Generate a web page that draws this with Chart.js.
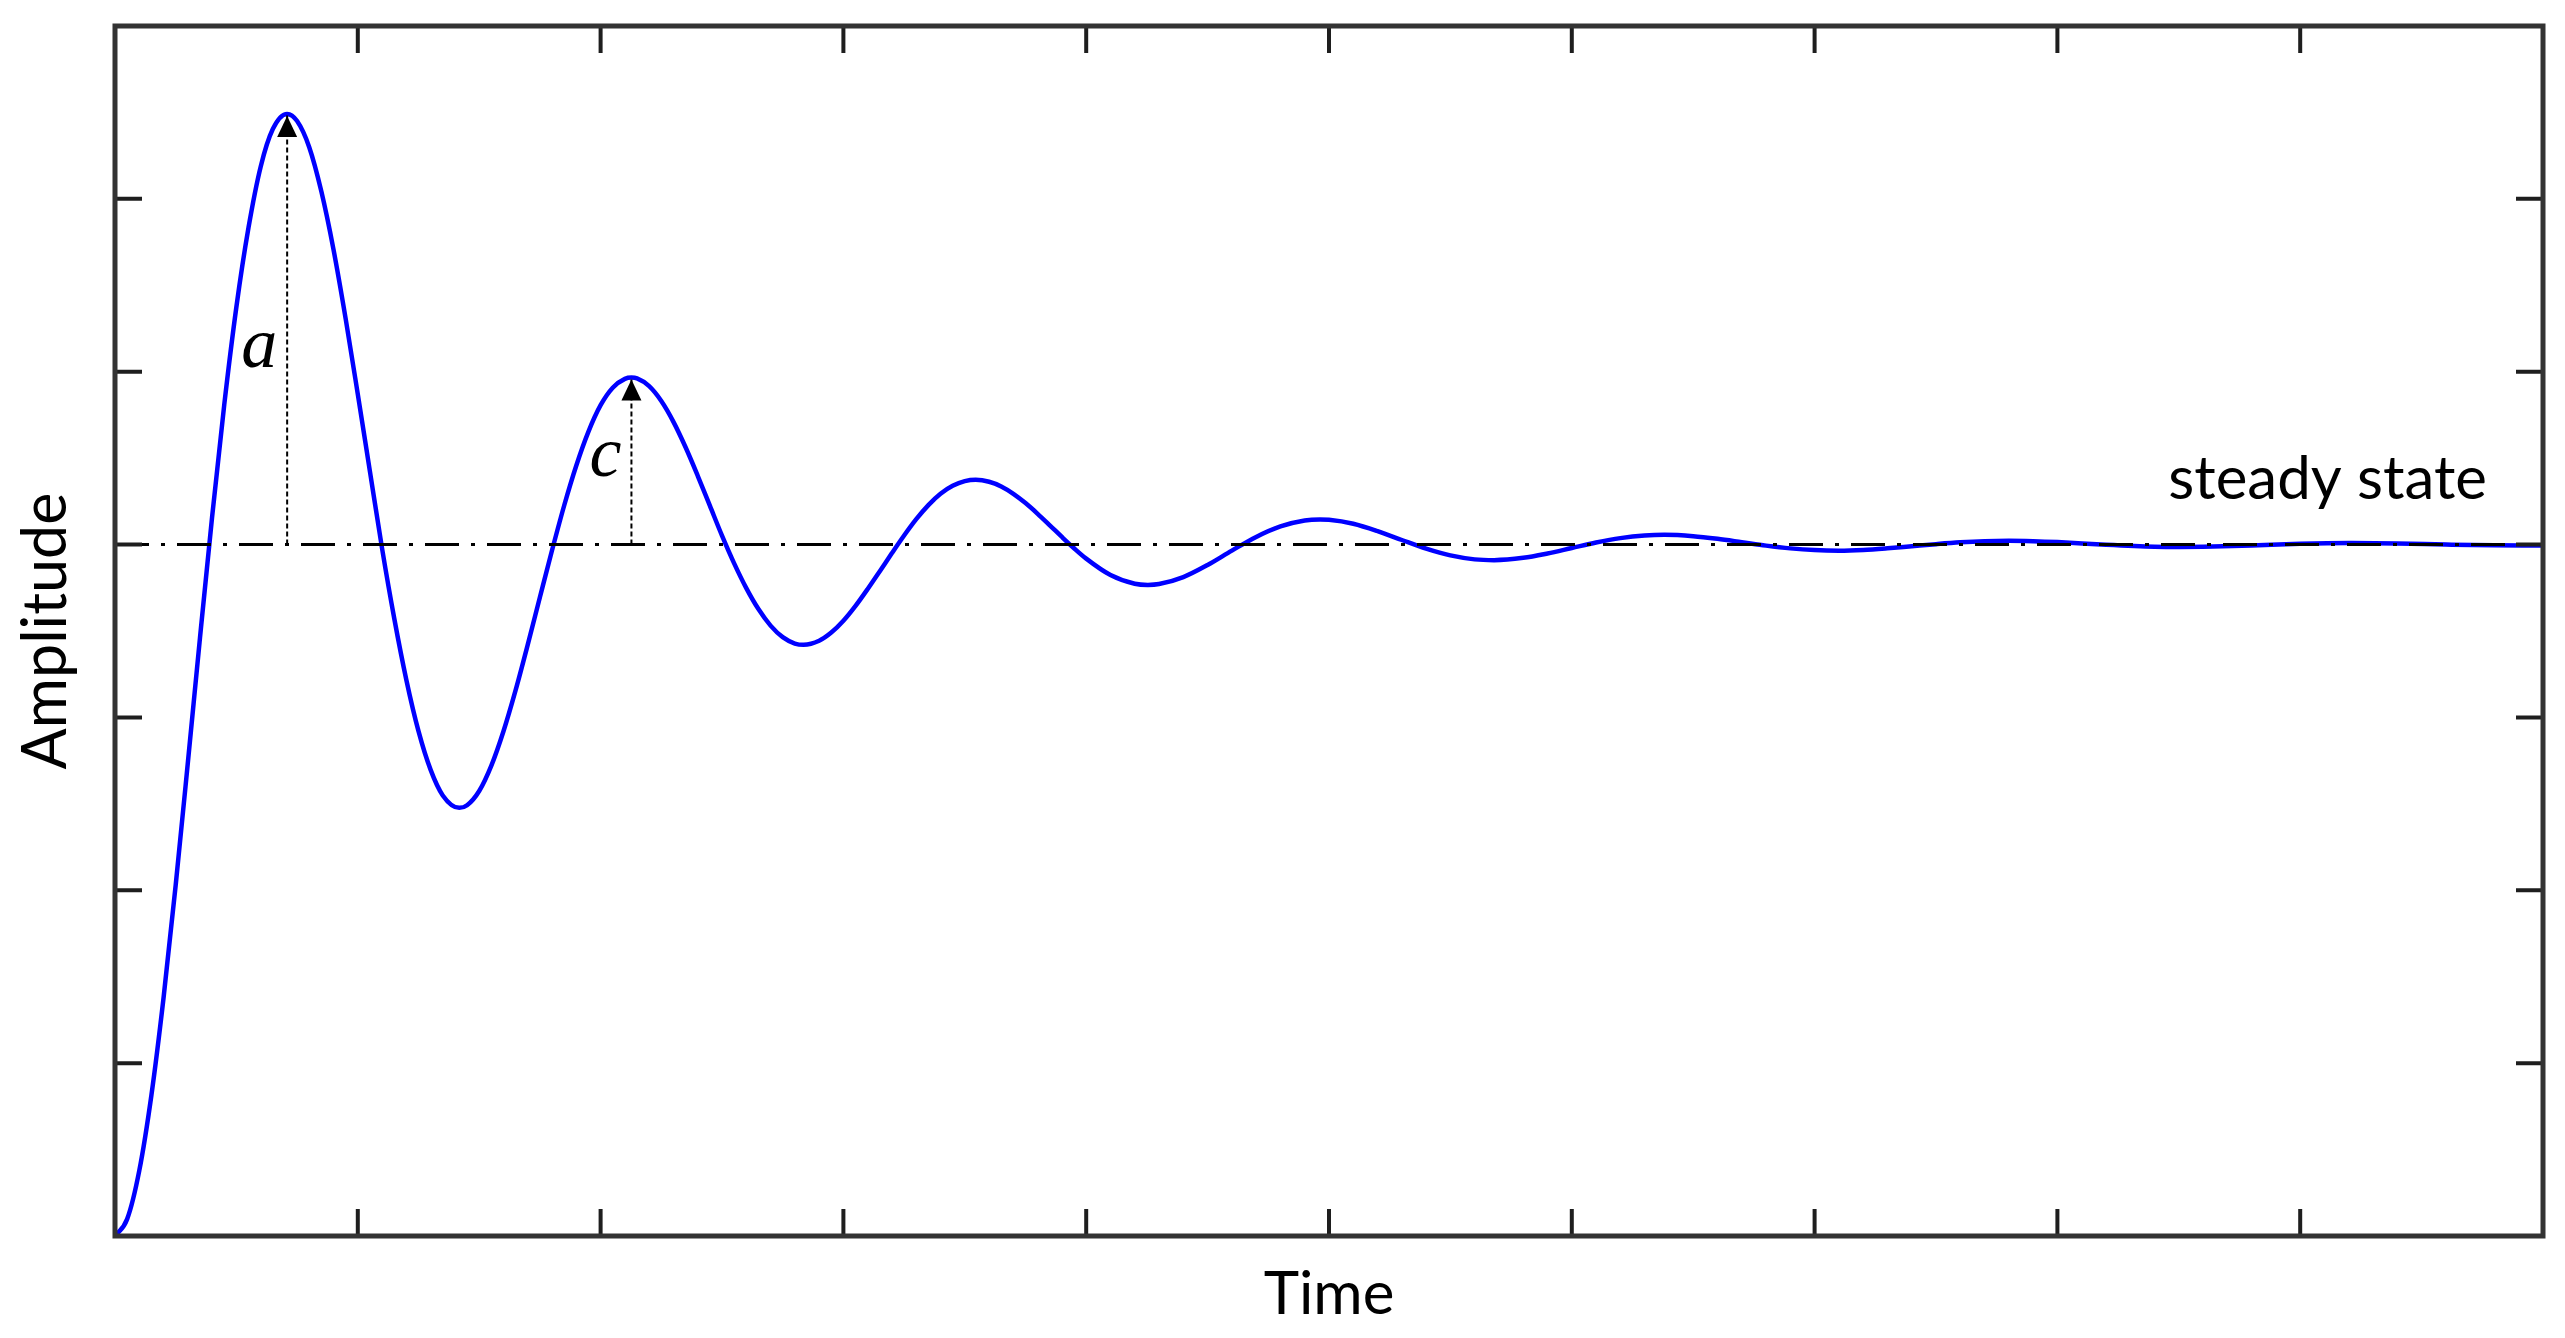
<!DOCTYPE html>
<html>
<head>
<meta charset="utf-8">
<title>Step response</title>
<script src="https://cdn.jsdelivr.net/npm/chart.js@4.4.1/dist/chart.umd.min.js"></script>
<style>
  html, body { margin: 0; padding: 0; background: #fff; }
  canvas { display: block; }
</style>
</head>
<body>
<canvas id="chart" width="2565" height="1338"></canvas>
<script>
// values (steady state = 1)
const timeValues = [
  0, 0.05, 0.1, 0.15, 0.2, 0.25, 0.3, 0.35, 0.4, 0.45, 0.5, 0.55, 0.6, 0.65, 0.709,
  0.75, 0.8, 0.85, 0.9, 0.95, 1.0, 1.05, 1.1, 1.15, 1.2, 1.25, 1.3, 1.35, 1.418,
  1.45, 1.5, 1.55, 1.6, 1.65, 1.7, 1.75, 1.8, 1.85, 1.9, 1.95, 2.0, 2.05, 2.1, 2.127,
  2.15, 2.2, 2.25, 2.3, 2.35, 2.4, 2.45, 2.5, 2.55, 2.6, 2.65, 2.7, 2.75, 2.8, 2.836,
  2.9, 2.95, 3.0, 3.05, 3.1, 3.15, 3.2, 3.25, 3.3, 3.35, 3.4, 3.45, 3.5, 3.545,
  3.6, 3.65, 3.7, 3.75, 3.8, 3.85, 3.9, 3.95, 4.0, 4.1, 4.2, 4.254,
  4.3, 4.4, 4.5, 4.6, 4.7, 4.8, 4.9, 4.963, 5.0, 5.1, 5.2, 5.3, 5.4, 5.5, 5.6, 5.68,
  5.8, 5.9, 6.0, 6.1, 6.2, 6.3, 6.381, 6.5, 6.6, 6.7, 6.8, 6.9, 7.0, 7.1, 7.2, 7.3,
  7.4, 7.5, 7.6, 7.7, 7.8, 7.9, 8.0, 8.2, 8.4, 8.5, 8.6, 8.8, 9.0, 9.2, 9.4, 9.6, 9.8, 10.0
];
const amplitudeValues = [
  0, 0.0244, 0.0945, 0.2038, 0.3446, 0.5077, 0.6844, 0.8651, 1.0402, 1.2024, 1.3438, 1.4586, 1.5465, 1.6009, 1.6228,
  1.6125, 1.5747, 1.5105, 1.4266, 1.3266, 1.2174, 1.1057, 0.9943, 0.8934, 0.8042, 0.7301, 0.6741, 0.6372, 0.6192,
  0.6230, 0.6436, 0.6803, 0.7300, 0.7894, 0.8552, 0.9238, 0.9917, 1.0565, 1.1144, 1.1634, 1.2016, 1.2269, 1.2397, 1.2415,
  1.2403, 1.2291, 1.2076, 1.1775, 1.1407, 1.0995, 1.0562, 1.0129, 0.9728, 0.9370, 0.9067, 0.8828, 0.8661, 0.8569, 0.8550,
  0.8608, 0.8727, 0.8898, 0.9113, 0.9357, 0.9615, 0.9877, 1.0131, 1.0367, 1.0571, 1.0735, 1.0850, 1.0917, 1.0937,
  1.0909, 1.0840, 1.0734, 1.0600, 1.0445, 1.0279, 1.0110, 0.9947, 0.9797, 0.9560, 0.9434, 0.9417,
  0.9429, 0.9530, 0.9705, 0.9913, 1.0111, 1.0263, 1.0349, 1.0363, 1.0358, 1.0301, 1.0195, 1.0066, 0.9941, 0.9843, 0.9786, 0.9775,
  0.9808, 0.9872, 0.9951, 1.0030, 1.0093, 1.0131, 1.0141, 1.0122, 1.0084, 1.0035, 0.9985, 0.9945, 0.9920, 0.9912, 0.9922, 0.9946,
  0.9976, 1.0006, 1.0032, 1.0049, 1.0055, 1.0049, 1.0036, 0.9998, 0.9970, 0.9966, 0.9969, 0.9988, 1.0011, 1.0021, 1.0015, 1.0000, 0.9989, 0.9987
];

const steadyTime = [0, 10];
const steadyLevel = [1, 1];

// arrows from steady state up to the first two peaks
const arrowTimes = [0.709, 2.127];
const arrowPeaks = [1.6228, 1.2415];
const arrowLabels = ['a', 'c'];

const xRange = [0, 10];
const yRange = [0, 1.75];
const xStep = 1;
const yStep = 0.25;

const steadyText = 'steady state';

const TICK_LEN = 27;
const FRAME_COLOR = '#333333';
const TICK_COLOR = '#1e1e1e';
const TEXT_FONT = 'Lato, "Open Sans", sans-serif';

const toPoints = (xs, ys) => xs.map((v, i) => ({ x: v, y: ys[i] }));

// box round the plot with ticks pointing inwards on all four sides
const framePlugin = {
  id: 'frame',
  afterDraw(chart) {
    const { ctx, chartArea: a, scales: { x, y } } = chart;
    ctx.save();
    ctx.strokeStyle = TICK_COLOR;
    ctx.lineWidth = 4;
    ctx.beginPath();
    x.ticks.forEach(t => {
      if (t.value <= x.min || t.value >= x.max) return;
      const px = x.getPixelForValue(t.value);
      ctx.moveTo(px, a.bottom);
      ctx.lineTo(px, a.bottom - TICK_LEN);
      ctx.moveTo(px, a.top);
      ctx.lineTo(px, a.top + TICK_LEN);
    });
    y.ticks.forEach(t => {
      if (t.value <= y.min || t.value >= y.max) return;
      const py = y.getPixelForValue(t.value);
      ctx.moveTo(a.left, py);
      ctx.lineTo(a.left + TICK_LEN, py);
      ctx.moveTo(a.right, py);
      ctx.lineTo(a.right - TICK_LEN, py);
    });
    ctx.stroke();
    ctx.strokeStyle = FRAME_COLOR;
    ctx.lineWidth = 5;
    ctx.strokeRect(a.left, a.top, a.right - a.left, a.bottom - a.top);
    ctx.restore();
  }
};

// arrow heads, the a / c letters and the steady state note
const notesPlugin = {
  id: 'notes',
  afterDatasetsDraw(chart) {
    const { ctx, scales: { x, y } } = chart;
    ctx.save();
    ctx.fillStyle = '#000';
    arrowTimes.forEach((t, i) => {
      const px = x.getPixelForValue(t);
      const tip = y.getPixelForValue(arrowPeaks[i]) + 2;
      ctx.beginPath();
      ctx.moveTo(px, tip);
      ctx.lineTo(px - 10, tip + 21);
      ctx.lineTo(px + 10, tip + 21);
      ctx.closePath();
      ctx.fill();

      // letter sits left of the shaft, about 40% up from steady state
      const base = y.getPixelForValue(steadyLevel[0]);
      const ly = base - (base - tip) * 0.415;
      ctx.font = 'italic 72px "Liberation Serif", "DejaVu Serif", serif';
      ctx.textAlign = 'right';
      ctx.textBaseline = 'alphabetic';
      ctx.fillText(arrowLabels[i], px - 10, ly);
    });

    ctx.font = '60px ' + TEXT_FONT;
    ctx.textAlign = 'right';
    ctx.textBaseline = 'alphabetic';
    ctx.fillText(steadyText, x.right - 56, y.getPixelForValue(steadyLevel[0]) - 46);
    ctx.restore();
  }
};

new Chart(document.getElementById('chart'), {
  type: 'line',
  data: {
    datasets: [
      {
        label: 'steady state',
        data: toPoints(steadyTime, steadyLevel),
        borderColor: '#000',
        borderWidth: 3,
        borderDash: [34, 12, 4, 12],
        pointRadius: 0
      },
      ...arrowTimes.map((t, i) => ({
        label: arrowLabels[i],
        data: [{ x: t, y: steadyLevel[0] }, { x: t, y: arrowPeaks[i] }],
        borderColor: '#000',
        borderWidth: 2,
        borderDash: [5, 3],
        pointRadius: 0
      })),
      {
        label: 'response',
        data: toPoints(timeValues, amplitudeValues),
        borderColor: '#0000ff',
        borderWidth: 4.5,
        cubicInterpolationMode: 'monotone',
        pointRadius: 0
      }
    ]
  },
  options: {
    responsive: false,
    animation: false,
    devicePixelRatio: 1,
    layout: { padding: { left: 0, top: 26, right: 22, bottom: 0 } },
    plugins: {
      legend: { display: false },
      tooltip: { enabled: false }
    },
    scales: {
      x: {
        type: 'linear',
        min: xRange[0],
        max: xRange[1],
        ticks: { stepSize: xStep, display: false },
        grid: { display: false },
        border: { display: false },
        title: {
          display: true,
          text: 'Time',
          color: '#000',
          font: { family: TEXT_FONT, size: 60 },
          padding: { top: 0, bottom: 7 }
        },
        afterFit: s => { s.height = 102; }
      },
      y: {
        type: 'linear',
        min: yRange[0],
        max: yRange[1],
        ticks: { stepSize: yStep, display: false },
        grid: { display: false },
        border: { display: false },
        title: {
          display: true,
          text: 'Amplitude',
          color: '#000',
          font: { family: TEXT_FONT, size: 61 },
          padding: { top: 10, bottom: 0 }
        },
        afterFit: s => { s.width = 115; }
      }
    }
  },
  plugins: [framePlugin, notesPlugin]
});
</script>
</body>
</html>
